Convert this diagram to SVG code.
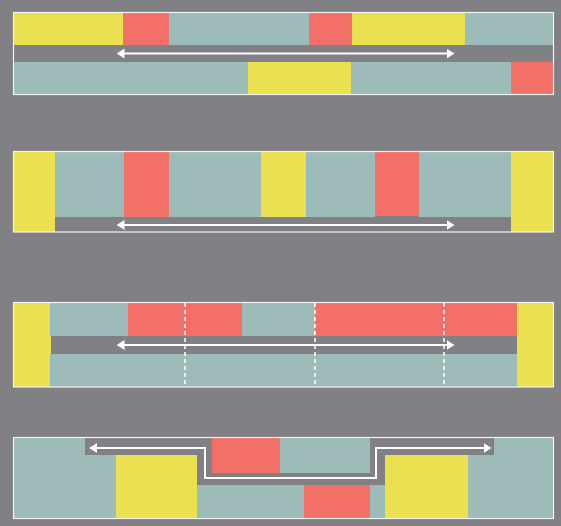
<svg xmlns="http://www.w3.org/2000/svg" width="561" height="526" viewBox="0 0 561 526">
<defs>
<style>
.y{fill:#ebe04f}.r{fill:#f37068}.t{fill:#9dbbb9}.g{fill:#818185}
.frame{fill:none;stroke:#f2f4f4;stroke-width:1.2}
.arr{fill:none;stroke:#ffffff;stroke-width:2}
.dash{stroke:#ffffff;stroke-width:1.5;stroke-dasharray:4 3}
</style>
<marker id="ah" viewBox="0 0 8 10" refX="0.5" refY="5" markerWidth="8" markerHeight="10" markerUnits="userSpaceOnUse" orient="auto-start-reverse">
<path d="M0,0 L8,5 L0,10 Z" fill="#ffffff"/>
</marker>
</defs>
<rect width="561" height="526" fill="#818185"/>

<g id="panel1">
<rect class="y" x="13" y="13" width="110" height="32"/>
<rect class="r" x="123" y="13" width="46" height="32"/>
<rect class="t" x="169" y="13" width="140" height="32"/>
<rect class="r" x="309" y="13" width="43" height="32"/>
<rect class="y" x="352" y="13" width="113" height="32"/>
<rect class="t" x="465" y="13" width="88" height="32"/>
<rect class="t" x="13" y="62" width="235" height="32"/>
<rect class="y" x="248" y="62" width="103" height="32"/>
<rect class="t" x="351" y="62" width="160" height="32"/>
<rect class="r" x="511" y="62" width="42" height="32"/>
<rect class="frame" x="13.5" y="12.5" width="540" height="82"/>
</g>

<g id="panel2">
<rect class="y" x="13" y="152" width="42" height="80"/>
<rect class="t" x="55" y="152" width="69" height="65"/>
<rect class="r" x="124" y="152" width="45" height="65"/>
<rect class="t" x="169" y="152" width="92" height="65"/>
<rect class="y" x="261" y="152" width="45" height="65"/>
<rect class="t" x="306" y="152" width="69" height="65"/>
<rect class="r" x="375" y="152" width="44" height="64"/>
<rect class="t" x="419" y="152" width="92" height="65"/>
<rect class="y" x="511" y="152" width="42" height="80"/>
<rect class="frame" x="13.5" y="151.5" width="540" height="80.5"/>
</g>

<g id="panel3">
<rect class="y" x="13" y="303" width="37" height="84"/>
<rect class="y" x="50" y="336" width="1" height="18"/>
<rect class="t" x="50" y="303" width="78" height="33"/>
<rect class="r" x="128" y="303" width="114" height="33"/>
<rect class="t" x="242" y="303" width="73" height="33"/>
<rect class="r" x="315" y="303" width="202" height="33"/>
<rect class="t" x="50" y="354" width="468" height="33"/>
<rect class="y" x="517" y="303" width="36" height="84"/>
<rect class="frame" x="13.5" y="302.5" width="540" height="84.5"/>
</g>

<g id="panel4">
<rect class="t" x="13" y="438" width="540" height="80"/>
<path class="g" d="M85,438 H212 V473 H370 V438 H494 V455 H385 V485 H197 V455 H85 Z"/>
<rect class="y" x="116" y="455" width="81" height="63"/>
<rect class="r" x="212" y="438" width="68" height="35"/>
<rect class="r" x="304" y="485" width="66" height="33"/>
<rect class="y" x="385" y="455" width="83" height="63"/>
<rect class="frame" x="13.5" y="437.5" width="540" height="81"/>
</g>

<g id="connectors">
<line class="arr" x1="124" y1="53.5" x2="447" y2="53.5" marker-start="url(#ah)" marker-end="url(#ah)"/>
<line class="arr" x1="124" y1="225" x2="447" y2="225" marker-start="url(#ah)" marker-end="url(#ah)"/>
<line class="arr" x1="124" y1="345" x2="447" y2="345" marker-start="url(#ah)" marker-end="url(#ah)"/>
<line class="dash" x1="185" y1="303" x2="185" y2="387"/>
<line class="dash" x1="315" y1="303" x2="315" y2="387"/>
<line class="dash" x1="444" y1="303" x2="444" y2="387"/>
<path class="arr" d="M96.5,448 H205 V478 H376 V448 H484" marker-start="url(#ah)" marker-end="url(#ah)"/>
</g>
</svg>
